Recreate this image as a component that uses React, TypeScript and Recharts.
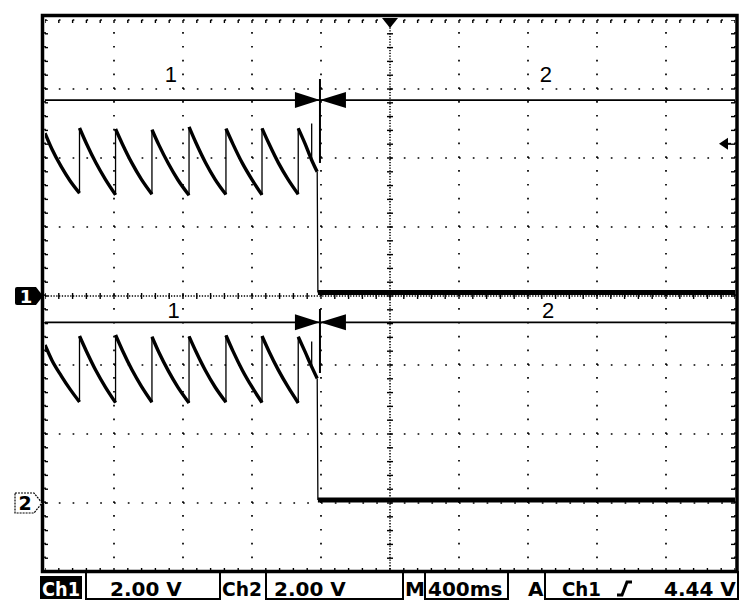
import React from 'react';
import {
  ComposedChart, Line, XAxis, YAxis, ReferenceLine,
  ReferenceDot, ReferenceArea, Scatter,
} from 'recharts';

// ---- axes (scope screen: 10 x 8 divisions) ----
const timeMajorTicks = [-2000, -1600, -1200, -800, -400, 0, 400, 800, 1200, 1600, 2000]; // ms, 400 ms/div
const divMajorTicks = [-4, -3, -2, -1, 0, 1, 2, 3, 4];
const SUBDIV = 5;
const minorOf = (major: number[]) => {
  const out: number[] = [];
  for (let i = 0; i < major.length - 1; i++) {
    for (let k = 0; k < SUBDIV; k++) out.push(+(major[i] + ((major[i + 1] - major[i]) * k) / SUBDIV).toFixed(4));
  }
  out.push(major[major.length - 1]);
  return out;
};
const timeMinorTicks = minorOf(timeMajorTicks);
const divMinorTicks = minorOf(divMajorTicks);

// channel scales: 2.00 V/div; Ch1 ground at centre, Ch2 ground 3 div below
const ch1Domain = [-8, 8];
const ch2Domain = [-2, 14];

// ---- Ch1 (volts vs ms) ----
const ch1Ramps: [number, number | null][] = [
  [-2000, 4.72], [-1960, 4.26], [-1905, 3.74], [-1855, 3.34], [-1800, 2.98], [-1800, null],
  [-1800, 4.87], [-1760, 4.42], [-1705, 3.86], [-1650, 3.38], [-1591, 2.93], [-1591, null],
  [-1591, 4.84], [-1551, 4.40], [-1496, 3.85], [-1441, 3.38], [-1380, 2.95], [-1380, null],
  [-1380, 4.82], [-1340, 4.38], [-1285, 3.84], [-1230, 3.37], [-1165, 2.92], [-1165, null],
  [-1165, 4.90], [-1125, 4.44], [-1070, 3.87], [-1015, 3.39], [-951, 2.94], [-951, null],
  [-951, 4.85], [-911, 4.41], [-856, 3.85], [-801, 3.38], [-742, 2.93], [-742, null],
  [-742, 4.86], [-702, 4.42], [-647, 3.86], [-592, 3.39], [-532, 2.95], [-532, null],
  [-532, 4.86], [-492, 4.41], [-455, 3.95], [-422, 3.60],
];
const ch1Edges: [number, number | null][] = [
  [-1800, 2.98], [-1800, 4.87], [-1800, null],
  [-1591, 2.93], [-1591, 4.84], [-1591, null],
  [-1380, 2.95], [-1380, 4.82], [-1380, null],
  [-1165, 2.92], [-1165, 4.90], [-1165, null],
  [-951, 2.94], [-951, 4.85], [-951, null],
  [-742, 2.93], [-742, 4.86], [-742, null],
  [-532, 2.95], [-532, 4.86], [-532, null],
  [-454, 5.0], [-454, 3.86], [-454, null],
  [-422, 3.60], [-418, 0.10],
];
const ch1Flat: [number, number][] = [[-418, 0.10], [2000, 0.10]];

// ---- Ch2 (volts vs ms) ----
const ch2Ramps: [number, number | null][] = [
  [-2000, 4.58], [-1960, 4.14], [-1905, 3.68], [-1855, 3.30], [-1800, 2.93], [-1800, null],
  [-1800, 4.84], [-1760, 4.40], [-1705, 3.84], [-1650, 3.36], [-1591, 2.91], [-1591, null],
  [-1591, 4.87], [-1551, 4.42], [-1496, 3.86], [-1441, 3.38], [-1380, 2.92], [-1380, null],
  [-1380, 4.82], [-1340, 4.37], [-1285, 3.83], [-1230, 3.36], [-1165, 2.90], [-1165, null],
  [-1165, 4.83], [-1125, 4.39], [-1070, 3.84], [-1015, 3.37], [-951, 2.92], [-951, null],
  [-951, 4.86], [-911, 4.41], [-856, 3.85], [-801, 3.37], [-742, 2.91], [-742, null],
  [-742, 4.84], [-702, 4.40], [-647, 3.85], [-592, 3.37], [-532, 2.90], [-532, null],
  [-532, 4.82], [-492, 4.38], [-455, 3.96], [-422, 3.61],
];
const ch2Edges: [number, number | null][] = [
  [-1800, 2.93], [-1800, 4.84], [-1800, null],
  [-1591, 2.91], [-1591, 4.87], [-1591, null],
  [-1380, 2.92], [-1380, 4.82], [-1380, null],
  [-1165, 2.90], [-1165, 4.83], [-1165, null],
  [-951, 2.92], [-951, 4.86], [-951, null],
  [-742, 2.91], [-742, 4.84], [-742, null],
  [-532, 2.90], [-532, 4.82], [-532, null],
  [-454, 4.68], [-454, 3.95], [-454, null],
  [-422, 3.61], [-418, 0.09],
];
const ch2Flat: [number, number][] = [[-418, 0.09], [2000, 0.09]];

// ---- annotations (in divisions) ----
const cursorTime = -406;
const annotLevels = [2.84, -0.381];
const cursorSpans: [number, number][] = [[3.145, 1.928], [-0.188, -1.116]];
const phaseLabels: { t: number; d: number; text: string }[] = [
  { t: -1270, d: 3.22, text: '1' },
  { t: 904, d: 3.22, text: '2' },
  { t: -1255, d: -0.2, text: '1' },
  { t: 916, d: -0.2, text: '2' },
];
const triggerLevelV = 4.44;

// ---- status bar ----
const statusCh1 = 'Ch1';
const statusCh1Scale = '2.00 V';
const statusCh2 = 'Ch2';
const statusCh2Scale = '2.00 V';
const statusTimebase = '400ms';
const statusTrigSource = 'Ch1';
const statusTrigLevel = '4.44 V';

const toPts = (arr: [number, number | null][]) => arr.map(([t, v]) => ({ t, v }));

const F = "'DejaVu Sans', sans-serif";
const FL = "'Liberation Sans', Arial, sans-serif";
const GRID_DASH = '1.7 12.1';

export default function App() {
  const centreHTicks = timeMinorTicks.map((t) => ({ t, d: 0 }));
  const centreVTicks = divMinorTicks.map((d) => ({ t: 0, d }));
  const topTicks = timeMinorTicks.map((t) => ({ t, d: 4 }));
  const bottomTicks = timeMinorTicks.map((t) => ({ t, d: -4 }));
  const leftTicks = divMinorTicks.map((d) => ({ t: -2000, d }));
  const rightTicks = divMinorTicks.map((d) => ({ t: 2000, d }));
  const tk = { stroke: '#000', strokeWidth: 1.4 };
  return (
    <div style={{ position: 'absolute', left: 0, top: 0, width: 750, height: 614, background: '#fff' }}>
      <ComposedChart width={750} height={614} margin={{ top: 20, right: 15, bottom: 42, left: 45 }}>
        <XAxis xAxisId={0} type="number" dataKey="t" domain={[-2000, 2000]} ticks={timeMajorTicks}
          allowDataOverflow hide />
        <YAxis yAxisId={0} type="number" dataKey="d" domain={[-4, 4]} ticks={divMajorTicks}
          allowDataOverflow hide />
        <YAxis yAxisId="ch1" type="number" domain={ch1Domain} allowDataOverflow hide />
        <YAxis yAxisId="ch2" type="number" domain={ch2Domain} allowDataOverflow hide />

        {/* dotted graticule */}
        {timeMajorTicks.filter((t) => t !== 0).map((t) => (
          <ReferenceLine key={'gx' + t} xAxisId={0} yAxisId={0} x={t} stroke="#000" strokeWidth={1.7} strokeDasharray={GRID_DASH} />
        ))}
        {divMajorTicks.filter((d) => d !== 0).map((d) => (
          <ReferenceLine key={'gy' + d} xAxisId={0} yAxisId={0} y={d} stroke="#000" strokeWidth={1.7} strokeDasharray={GRID_DASH} />
        ))}
        <ReferenceLine xAxisId={0} yAxisId={0} x={0} stroke="#000" strokeWidth={1.5} strokeDasharray="1.3 1.5" />
        <ReferenceLine xAxisId={0} yAxisId={0} y={0} stroke="#000" strokeWidth={1.5} strokeDasharray="1.3 1.5" />
        <Scatter data={centreHTicks} xAxisId={0} yAxisId={0} isAnimationActive={false}
          shape={(p: any) => <line x1={p.cx} x2={p.cx} y1={p.cy - 3} y2={p.cy + 3} {...tk} />} />
        <Scatter data={centreVTicks} xAxisId={0} yAxisId={0} isAnimationActive={false}
          shape={(p: any) => <line x1={p.cx - 3} x2={p.cx + 3} y1={p.cy} y2={p.cy} {...tk} />} />
        <Scatter data={topTicks} xAxisId={0} yAxisId={0} isAnimationActive={false}
          shape={(p: any) => <line x1={p.cx} x2={p.cx} y1={p.cy - 1} y2={p.cy + 3} {...tk} />} />
        <Scatter data={bottomTicks} xAxisId={0} yAxisId={0} isAnimationActive={false}
          shape={(p: any) => <line x1={p.cx} x2={p.cx} y1={p.cy - 4} y2={p.cy} {...tk} />} />
        <Scatter data={leftTicks} xAxisId={0} yAxisId={0} isAnimationActive={false}
          shape={(p: any) => <line x1={p.cx - 1} x2={p.cx + 3} y1={p.cy} y2={p.cy} {...tk} />} />
        <Scatter data={rightTicks} xAxisId={0} yAxisId={0} isAnimationActive={false}
          shape={(p: any) => <line x1={p.cx - 4} x2={p.cx} y1={p.cy} y2={p.cy} {...tk} />} />

        {annotLevels.map((d, i) => (
          <ReferenceLine key={'al' + i} xAxisId={0} yAxisId={0} y={d} stroke="#000" strokeWidth={1.8} />
        ))}
        {cursorSpans.map(([a, b], i) => (
          <ReferenceLine key={'cs' + i} xAxisId={0} yAxisId={0} stroke="#000" strokeWidth={2}
            segment={[{ x: cursorTime, y: a }, { x: cursorTime, y: b }]} />
        ))}
        {annotLevels.map((d, i) => (
          <ReferenceDot key={'ar' + i} xAxisId={0} yAxisId={0} x={cursorTime} y={d}
            shape={(p: any) => (
              <g>
                <polygon points={`${p.cx - 25},${p.cy - 8} ${p.cx},${p.cy} ${p.cx - 25},${p.cy + 8}`} fill="#000" />
                <polygon points={`${p.cx + 26},${p.cy - 8} ${p.cx},${p.cy} ${p.cx + 26},${p.cy + 8}`} fill="#000" />
              </g>
            )} />
        ))}
        {phaseLabels.map((l, i) => (
          <ReferenceDot key={'pl' + i} xAxisId={0} yAxisId={0} x={l.t} y={l.d}
            shape={(p: any) => (
              <text x={p.cx} y={p.cy + 8} textAnchor="middle" fontFamily={FL} fontSize={22} fill="#000">{l.text}</text>
            )} />
        ))}

        <Line data={toPts(ch1Ramps)} dataKey="v" xAxisId={0} yAxisId="ch1" type="monotone" stroke="#000"
          strokeWidth={3.4} dot={false} connectNulls={false} isAnimationActive={false} />
        <Line data={toPts(ch1Edges)} dataKey="v" xAxisId={0} yAxisId="ch1" type="linear" stroke="#000"
          strokeWidth={1.3} dot={false} connectNulls={false} isAnimationActive={false} />
        <Line data={toPts(ch1Flat)} dataKey="v" xAxisId={0} yAxisId="ch1" type="linear" stroke="#000"
          strokeWidth={5} dot={false} isAnimationActive={false} />
        <Line data={toPts(ch2Ramps)} dataKey="v" xAxisId={0} yAxisId="ch2" type="monotone" stroke="#000"
          strokeWidth={3.4} dot={false} connectNulls={false} isAnimationActive={false} />
        <Line data={toPts(ch2Edges)} dataKey="v" xAxisId={0} yAxisId="ch2" type="linear" stroke="#000"
          strokeWidth={1.3} dot={false} connectNulls={false} isAnimationActive={false} />
        <Line data={toPts(ch2Flat)} dataKey="v" xAxisId={0} yAxisId="ch2" type="linear" stroke="#000"
          strokeWidth={5} dot={false} isAnimationActive={false} />

        {/* trigger position marker (top) */}
        <ReferenceDot xAxisId={0} yAxisId={0} x={0} y={4}
          shape={(p: any) => <polygon points={`${p.cx - 8},${p.cy - 2} ${p.cx + 8},${p.cy - 2} ${p.cx},${p.cy + 8}`} fill="#000" />} />
        {/* trigger level marker (right) */}
        <ReferenceDot xAxisId={0} yAxisId="ch1" x={2000} y={triggerLevelV}
          shape={(p: any) => (
            <g>
              <polygon points={`${p.cx - 16},${p.cy + 1} ${p.cx - 7},${p.cy - 5} ${p.cx - 7},${p.cy + 7}`} fill="#000" />
              <line x1={p.cx - 8} x2={p.cx - 4} y1={p.cy + 1} y2={p.cy + 1} stroke="#000" strokeWidth={2} />
            </g>
          )} />
        {/* channel ground markers */}
        <ReferenceDot xAxisId={0} yAxisId="ch1" x={-2000} y={0}
          shape={(p: any) => (
            <g>
              <path d={`M ${p.cx - 28} ${p.cy - 9} L ${p.cx - 9} ${p.cy - 9} L ${p.cx - 2} ${p.cy} L ${p.cx - 9} ${p.cy + 9} L ${p.cx - 28} ${p.cy + 9} Q ${p.cx - 30} ${p.cy + 9} ${p.cx - 30} ${p.cy + 7} L ${p.cx - 30} ${p.cy - 7} Q ${p.cx - 30} ${p.cy - 9} ${p.cx - 28} ${p.cy - 9} Z`} fill="#000" />
              <text x={p.cx - 19} y={p.cy + 7} textAnchor="middle" fontFamily={F} fontWeight="bold" fontSize={18} fill="#fff">1</text>
            </g>
          )} />
        <ReferenceDot xAxisId={0} yAxisId="ch2" x={-2000} y={0}
          shape={(p: any) => (
            <g>
              <path d={`M ${p.cx - 30} ${p.cy - 10} L ${p.cx - 11} ${p.cy - 10} L ${p.cx - 3} ${p.cy} L ${p.cx - 11} ${p.cy + 10} L ${p.cx - 30} ${p.cy + 10} Z`} fill="#fff" stroke="#000" strokeWidth={1.2} strokeDasharray="2 1" />
              <text x={p.cx - 20} y={p.cy + 7} textAnchor="middle" fontFamily={F} fontWeight="bold" fontSize={19} fill="#000">2</text>
            </g>
          )} />

        {/* screen border */}
        <ReferenceArea xAxisId={0} yAxisId={0} x1={-2014.5} x2={2011.6} y1={-3.993} y2={4.065}
          ifOverflow="visible" fill="none" stroke="#000" strokeWidth={3.5} />
      </ComposedChart>

      <svg width={750} height={614} style={{ position: 'absolute', left: 0, top: 0, pointerEvents: 'none' }}>
        <g fontFamily={F} fontWeight="bold" fontSize={20} fill="#000">
          <rect x={40} y={576} width={42} height={23} fill="#000" />
          <text x={42} y={596} fill="#fff" textLength={38} lengthAdjust="spacingAndGlyphs">{statusCh1}</text>
          <rect x={86} y={572} width={134} height={27} fill="none" stroke="#000" strokeWidth={2} />
          <text x={110} y={596}>{statusCh1Scale}</text>
          <text x={222} y={596} textLength={40} lengthAdjust="spacingAndGlyphs">{statusCh2}</text>
          <rect x={266} y={572} width={137} height={27} fill="none" stroke="#000" strokeWidth={2} />
          <text x={274} y={596}>{statusCh2Scale}</text>
          <text x={405} y={596}>M</text>
          <rect x={425} y={572} width={83} height={27} fill="none" stroke="#000" strokeWidth={2} />
          <text x={428} y={596}>{statusTimebase}</text>
          <text x={528} y={596}>A</text>
          <rect x={545} y={572} width={193} height={27} fill="none" stroke="#000" strokeWidth={2} />
          <text x={562} y={596} textLength={39} lengthAdjust="spacingAndGlyphs">{statusTrigSource}</text>
          <path d="M 617 595 L 622 595 L 627 582 L 632 582" fill="none" stroke="#000" strokeWidth={3} />
          <text x={664} y={596}>{statusTrigLevel}</text>
        </g>
      </svg>
    </div>
  );
}
